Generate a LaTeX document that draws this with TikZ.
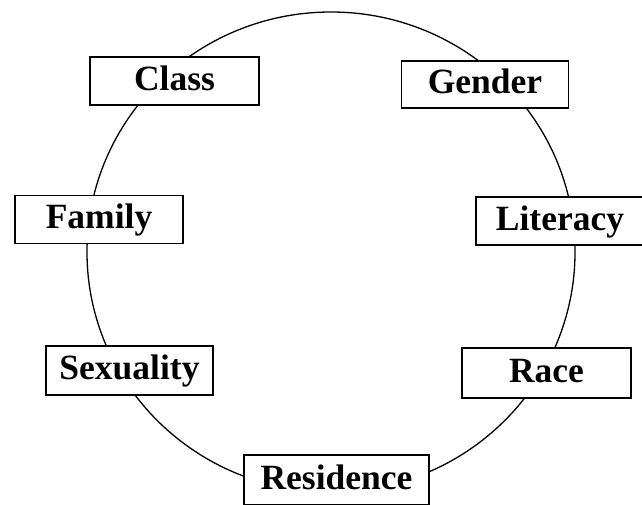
\documentclass[tikz,border=0pt]{standalone}
\usepackage{fontspec}
\setmainfont{Liberation Serif}
\usetikzlibrary{shapes.geometric}
\begin{document}
\begin{tikzpicture}[x=1pt,y=-1pt,
  ringline/.style={draw, line width=1.3pt, ellipse, inner sep=0pt},
  tag/.style={draw, fill=white, line width=1.3pt, inner sep=0pt,
    minimum width=168pt, minimum height=48pt,
    text height=18pt, text depth=0pt,
    font=\fontsize{35.5}{38}\selectfont\bfseries}]
\useasboundingbox (0,0) rectangle (642,504);
\node[ringline, minimum width=488pt, minimum height=480pt] (ring) at (331,252) {};
\node[tag, minimum width=169pt] (class) at (174.5,81) {Class};
\node[tag, minimum width=167pt, minimum height=47pt] (gender) at (485,84.5) {Gender};
\node[tag] (family) at (99,219.5) {Family};
\node[tag] (literacy) at (560,221) {Literacy};
\node[tag, minimum width=167pt, minimum height=49pt] (sexuality) at (129.5,370.5) {Sexuality};
\node[tag, minimum width=169pt, minimum height=50pt] (race) at (546.5,373) {Race};
\node[tag, minimum width=185pt, minimum height=50pt] (residence) at (336.5,480) {Residence};
\end{tikzpicture}
\end{document}
